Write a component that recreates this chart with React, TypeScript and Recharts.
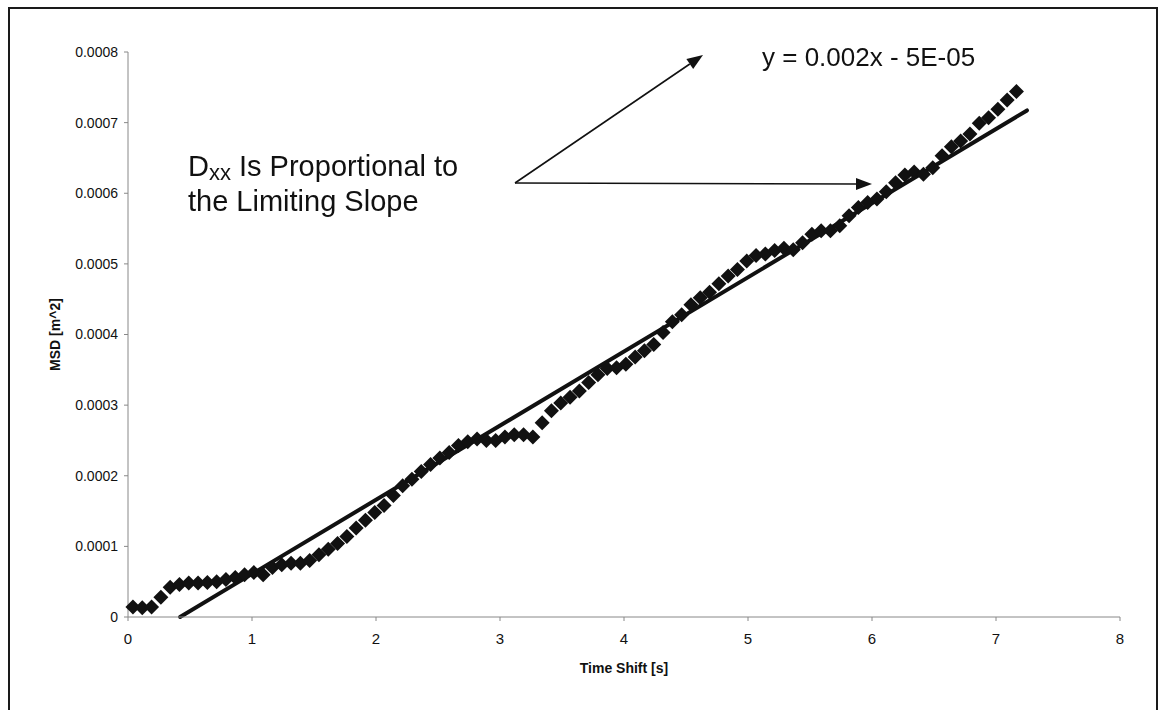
import { ScatterChart, Scatter, XAxis, YAxis, ReferenceLine } from 'recharts';

// time shift [s]
const time = [
  0.04, 0.115, 0.19, 0.265, 0.34, 0.415, 0.49, 0.565, 0.64, 0.715,
  0.79, 0.865, 0.94, 1.015, 1.09, 1.165, 1.24, 1.315, 1.39, 1.465,
  1.54, 1.615, 1.69, 1.765, 1.84, 1.915, 1.99, 2.065, 2.14, 2.215,
  2.29, 2.365, 2.44, 2.515, 2.59, 2.665, 2.74, 2.815, 2.89, 2.965,
  3.04, 3.115, 3.19, 3.265, 3.34, 3.415, 3.49, 3.565, 3.64, 3.715,
  3.79, 3.865, 3.94, 4.015, 4.09, 4.165, 4.24, 4.315, 4.39, 4.465,
  4.54, 4.615, 4.69, 4.765, 4.84, 4.915, 4.99, 5.065, 5.14, 5.215,
  5.29, 5.365, 5.44, 5.515, 5.59, 5.665, 5.74, 5.815, 5.89, 5.965,
  6.04, 6.115, 6.19, 6.265, 6.34, 6.415, 6.49, 6.565, 6.64, 6.715,
  6.79, 6.865, 6.94, 7.015, 7.09, 7.165,
];

// mean square displacement [m^2]
const msd = [
  0.14e-4, 0.13e-4, 0.14e-4, 0.28e-4, 0.42e-4, 0.46e-4, 0.48e-4, 0.48e-4, 0.49e-4, 0.5e-4,
  0.53e-4, 0.56e-4, 0.6e-4, 0.63e-4, 0.6e-4, 0.7e-4, 0.74e-4, 0.76e-4, 0.76e-4, 0.8e-4,
  0.88e-4, 0.96e-4, 1.04e-4, 1.14e-4, 1.26e-4, 1.37e-4, 1.48e-4, 1.58e-4, 1.72e-4, 1.86e-4,
  1.95e-4, 2.06e-4, 2.16e-4, 2.25e-4, 2.33e-4, 2.43e-4, 2.48e-4, 2.52e-4, 2.5e-4, 2.5e-4,
  2.55e-4, 2.58e-4, 2.58e-4, 2.55e-4, 2.75e-4, 2.92e-4, 3.03e-4, 3.11e-4, 3.2e-4, 3.32e-4,
  3.43e-4, 3.52e-4, 3.53e-4, 3.58e-4, 3.68e-4, 3.77e-4, 3.86e-4, 4.03e-4, 4.18e-4, 4.28e-4,
  4.42e-4, 4.52e-4, 4.6e-4, 4.72e-4, 4.83e-4, 4.92e-4, 5.04e-4, 5.12e-4, 5.14e-4, 5.19e-4,
  5.22e-4, 5.2e-4, 5.3e-4, 5.42e-4, 5.47e-4, 5.47e-4, 5.54e-4, 5.68e-4, 5.8e-4, 5.87e-4,
  5.92e-4, 6.02e-4, 6.15e-4, 6.26e-4, 6.3e-4, 6.27e-4, 6.36e-4, 6.53e-4, 6.66e-4, 6.74e-4,
  6.84e-4, 6.99e-4, 7.07e-4, 7.19e-4, 7.32e-4, 7.44e-4,
];

const xTicks = [0, 1, 2, 3, 4, 5, 6, 7, 8];
const yTicks = [0, 0.0001, 0.0002, 0.0003, 0.0004, 0.0005, 0.0006, 0.0007, 0.0008];

// linear trend line as drawn on the plot
const trendSlope = 1.05e-4;
const trendIntercept = -0.44e-4;
const trendFrom = 0.42;
const trendTo = 7.25;

const points = time.map((t, i) => ({ t, msd: msd[i] }));

const FONT = '"Liberation Sans", Arial, sans-serif';
const INK = '#111';

const Diamond = (props: any) => {
  const { cx, cy } = props;
  const r = 7.5;
  return (
    <polygon
      points={`${cx},${cy - r} ${cx + r},${cy} ${cx},${cy + r} ${cx - r},${cy}`}
      fill={INK}
    />
  );
};

// straight arrow with a filled head at (x2, y2)
const Arrow = ({ x1, y1, x2, y2 }: { x1: number; y1: number; x2: number; y2: number }) => {
  const len = Math.hypot(x2 - x1, y2 - y1);
  const ux = (x2 - x1) / len;
  const uy = (y2 - y1) / len;
  const hl = 16;
  const hw = 6;
  const bx = x2 - ux * hl;
  const by = y2 - uy * hl;
  return (
    <g>
      <line x1={x1} y1={y1} x2={bx} y2={by} stroke={INK} strokeWidth={1.6} />
      <polygon
        points={`${x2},${y2} ${bx - uy * hw},${by + ux * hw} ${bx + uy * hw},${by - ux * hw}`}
        fill={INK}
      />
    </g>
  );
};

export default function App() {
  return (
    <div style={{ position: 'relative', width: 1144, height: 694, background: '#fff' }}>
      <ScatterChart
        width={1144}
        height={694}
        margin={{ top: 44, right: 32, bottom: 25, left: 40 }}
      >
        <XAxis
          type="number"
          dataKey="t"
          domain={[0, 8]}
          ticks={xTicks}
          interval={0}
          height={60}
          tickSize={4}
          tickMargin={12}
          axisLine={{ stroke: '#888', strokeWidth: 1 }}
          tickLine={{ stroke: '#888' }}
          tick={{ fill: INK, fontSize: 15, fontFamily: FONT }}
          label={{
            value: 'Time Shift [s]',
            position: 'insideBottom',
            offset: 4,
            style: { fill: INK, fontSize: 14, fontWeight: 700, fontFamily: FONT },
          }}
        />
        <YAxis
          type="number"
          dataKey="msd"
          domain={[0, 0.0008]}
          ticks={yTicks}
          interval={0}
          width={80}
          tickSize={4}
          tickMargin={6}
          tickFormatter={(v: number) => (v === 0 ? '0' : v.toFixed(4))}
          axisLine={{ stroke: '#888', strokeWidth: 1 }}
          tickLine={{ stroke: '#888' }}
          tick={{ fill: INK, fontSize: 14, fontFamily: FONT }}
          label={{
            value: 'MSD [m^2]',
            angle: -90,
            position: 'insideLeft',
            offset: 7,
            style: { textAnchor: 'middle', fill: INK, fontSize: 14, fontWeight: 700, fontFamily: FONT },
          }}
        />
        <Scatter data={points} shape={<Diamond />} isAnimationActive={false} />
        <ReferenceLine
          segment={[
            { x: trendFrom, y: trendSlope * trendFrom + trendIntercept },
            { x: trendTo, y: trendSlope * trendTo + trendIntercept },
          ]}
          stroke={INK}
          strokeWidth={4}
          strokeLinecap="round"
        />
      </ScatterChart>

      {/* chart frame */}
      <div
        style={{
          position: 'fixed',
          left: 8,
          top: 7,
          width: 1150,
          height: 720,
          boxSizing: 'border-box',
          border: '2px solid #1a1a1a',
          borderBottom: 'none',
          pointerEvents: 'none',
        }}
      />

      {/* annotations */}
      <svg
        width={1160}
        height={710}
        style={{ position: 'fixed', left: 0, top: 0, pointerEvents: 'none' }}
      >
        <text x={762} y={66} fontSize={26} fontFamily={FONT} fill={INK}>
          y = 0.002x - 5E-05
        </text>
        <text x={188} y={176} fontSize={29} fontFamily={FONT} fill={INK}>
          D
          <tspan fontSize={22} dy={4}>xx</tspan>
          <tspan dy={-4}> Is Proportional to</tspan>
        </text>
        <text x={188} y={211} fontSize={29} fontFamily={FONT} fill={INK}>
          the Limiting Slope
        </text>
        <Arrow x1={515} y1={183} x2={703} y2={55} />
        <Arrow x1={515} y1={183} x2={872} y2={184} />
      </svg>
    </div>
  );
}
